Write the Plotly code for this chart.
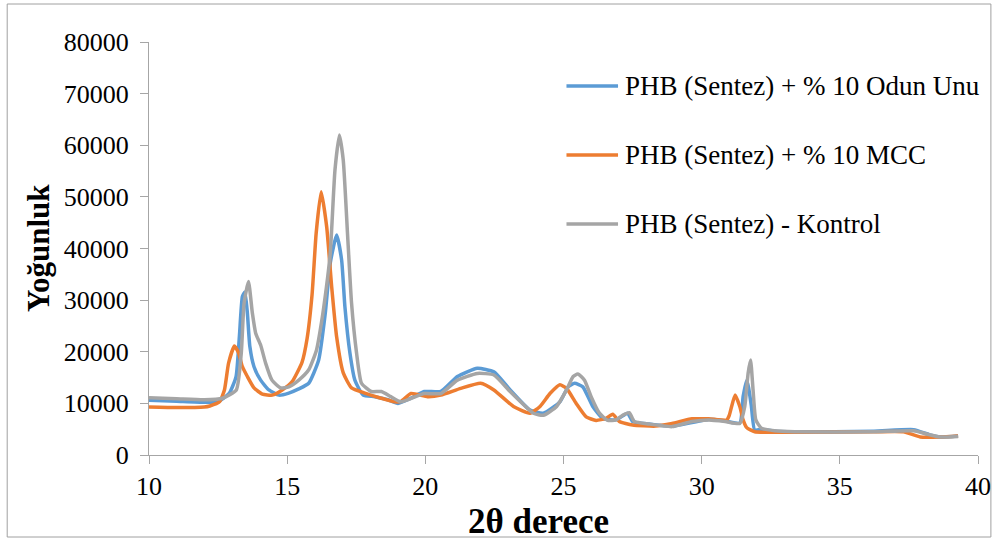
import plotly.graph_objects as go

# ---- data (2θ in degrees, intensity) ----
odun_x = [10.0, 11.0, 12.0, 12.5, 12.91, 13.15, 13.27, 13.38, 13.47, 13.56, 13.65, 13.80, 14.04, 14.34, 14.70,
          15.06, 15.42, 15.78, 16.14, 16.38, 16.56, 16.79, 16.97, 17.09, 17.27, 17.45, 17.75, 18.17, 18.65,
          19.01, 19.48, 19.96, 20.56, 21.16, 21.88, 22.48, 23.07, 23.79, 24.27, 24.87, 25.17, 25.40, 25.70,
          26.06, 26.42, 26.90, 27.32, 27.50, 28.09, 28.93, 29.65, 30.25, 30.85, 31.38, 31.50, 31.63, 31.70,
          31.80, 31.92, 32.16, 32.64, 33.36, 36.23, 37.67, 38.26, 38.62, 39.28]
odun_y = [10600, 10400, 10200, 10300, 12000, 15200, 22900, 30700, 31600, 27500, 21000, 17100, 14500, 12600, 11600,
          12000, 12800, 13900, 18400, 27500, 37200, 42600, 37800, 28700, 19800, 14500, 11600, 11300, 10700,
          10000, 11000, 12300, 12300, 15200, 16800, 16100, 12600, 8700, 8100, 10300, 13200, 13900, 13200,
          9400, 7100, 6800, 8100, 6500, 6000, 5600, 6300, 6900, 6600, 6200, 11300, 14500, 13000,
          9400, 4800, 5000, 4600, 4500, 4600, 4900, 3900, 3500, 3700]

mcc_x = [10.0, 11.0, 12.0, 12.2, 12.55, 12.73, 12.88, 13.09, 13.24, 13.38, 13.56, 13.80, 14.10, 14.46, 14.82,
         15.18, 15.54, 15.72, 15.90, 16.05, 16.23, 16.43, 16.61, 16.79, 17.03, 17.33, 17.81, 18.40, 18.89,
         19.12, 19.48, 20.08, 20.56, 21.28, 22.00, 22.48, 23.19, 23.79, 24.15, 24.51, 24.87, 25.11, 25.46,
         25.82, 26.18, 26.54, 26.78, 27.02, 27.50, 28.33, 28.93, 29.65, 30.25, 30.91, 31.00, 31.21, 31.38,
         31.50, 31.63, 31.92, 32.64, 33.36, 36.23, 37.30, 37.91, 38.62, 39.28]
mcc_y = [9300, 9200, 9300, 9500, 10300, 12600, 17800, 21100, 19800, 17100, 15200, 13000, 11800, 11600, 12600,
         14200, 18000, 22500, 31000, 43000, 51000, 44200, 32600, 22900, 15900, 13000, 12000, 11000, 10300,
         10400, 11900, 11300, 11600, 12900, 13900, 12600, 9400, 8100, 9400, 11900, 13600, 12900, 10000,
         7400, 6700, 7100, 7900, 6500, 5800, 5600, 6100, 7000, 7000, 6800, 7700, 11600, 9400,
         6800, 5300, 4500, 4400, 4400, 4500, 4500, 3500, 3500, 3700]

kontrol_x = [10.0, 11.0, 12.0, 12.66, 13.16, 13.34, 13.44, 13.60, 13.74, 13.86, 14.04, 14.22, 14.45, 14.76,
             15.06, 15.42, 15.78, 16.06, 16.24, 16.42, 16.56, 16.73, 16.89, 17.03, 17.19, 17.33, 17.51, 17.69,
             18.04, 18.41, 18.75, 19.12, 19.96, 20.56, 21.16, 21.88, 22.48, 23.07, 23.91, 24.27, 24.75, 25.11,
             25.35, 25.52, 25.76, 26.00, 26.30, 26.60, 26.90, 27.14, 27.38, 27.56, 28.09, 28.93, 29.65, 30.25,
             30.85, 31.38, 31.56, 31.68, 31.77, 31.86, 31.96, 32.16, 32.64, 33.36, 36.23, 37.67, 38.26, 38.62, 39.28]
kontrol_y = [11100, 10900, 10700, 11000, 12600, 19800, 29400, 33600, 27500, 23600, 21300, 17800, 14500, 13000,
             13200, 14500, 16500, 20300, 25600, 32500, 39100, 55200, 62000, 57100, 42300, 29400, 19800, 13900,
             12300, 12300, 11300, 10300, 11900, 11900, 14500, 15800, 15500, 12300, 8100, 7700, 9400, 12600,
             15200, 15700, 14500, 11300, 8100, 6700, 6800, 7700, 8200, 6500, 6000, 5500, 6500, 6800,
             6500, 6100, 9400, 15800, 18400, 12600, 6800, 5200, 4700, 4500, 4500, 4700, 3900, 3500, 3600]

series_names = ["PHB (Sentez) + % 10 Odun Unu", "PHB (Sentez) + % 10 MCC", "PHB (Sentez) - Kontrol"]
x_ticks = [10, 15, 20, 25, 30, 35, 40]
y_ticks = [0, 10000, 20000, 30000, 40000, 50000, 60000, 70000, 80000]

colors = ["#5B9BD5", "#ED7D31", "#A5A5A5"]
serif = "Liberation Serif"

fig = go.Figure()
for i, (xs, ys) in enumerate([(odun_x, odun_y), (mcc_x, mcc_y), (kontrol_x, kontrol_y)]):
    fig.add_trace(go.Scatter(
        x=xs, y=ys, mode="lines", name=series_names[i], showlegend=False,
        line=dict(color=colors[i], width=3.5, shape="spline", smoothing=0.5),
    ))

L, R, T, B = 149, 18, 42, 85
W, H = 1003, 540
pw, ph = W - L - R, H - T - B

def px_to_paper_x(px):
    return (px - L) / pw

def py_to_paper_y(py):
    return (H - B - py) / ph

# legend drawn as line samples + text
legend_rows = [86, 155, 224]
shapes = [
    dict(type="rect", xref="paper", yref="paper",
         x0=px_to_paper_x(6), x1=px_to_paper_x(998), y0=py_to_paper_y(537), y1=py_to_paper_y(4),
         line=dict(color="#A0A0A0", width=1), fillcolor="rgba(0,0,0,0)", layer="below"),
]
annotations = [
    dict(text="<b>2θ derece</b>", x=px_to_paper_x(542), y=py_to_paper_y(521), xref="paper", yref="paper",
         xanchor="center", yanchor="middle", showarrow=False, font=dict(family=serif, size=35, color="black")),
    dict(text="<b>Yoğunluk</b>", x=px_to_paper_x(37), y=py_to_paper_y(248), xref="paper", yref="paper",
         xanchor="center", yanchor="middle", showarrow=False, textangle=-90,
         font=dict(family=serif, size=31, color="black")),
]
for i, ry in enumerate(legend_rows):
    shapes.append(dict(type="line", xref="paper", yref="paper",
                       x0=px_to_paper_x(570), x1=px_to_paper_x(622),
                       y0=py_to_paper_y(ry), y1=py_to_paper_y(ry),
                       line=dict(color=colors[i], width=3.5)))
    annotations.append(dict(text=series_names[i], x=px_to_paper_x(627), y=py_to_paper_y(ry),
                            xref="paper", yref="paper", xanchor="left", yanchor="middle",
                            showarrow=False, font=dict(family=serif, size=27, color="black")))

fig.update_layout(
    width=W, height=H,
    margin=dict(l=L, r=R, t=T, b=B),
    paper_bgcolor="white", plot_bgcolor="white",
    font=dict(family=serif, color="black", size=26),
    showlegend=False,
    xaxis=dict(
        range=[10, 40], tickvals=x_ticks, ticktext=[str(v) for v in x_ticks],
        showgrid=False, zeroline=False, showline=True, linecolor="#A6A6A6", linewidth=1,
        ticks="outside", ticklen=8, tickcolor="#A6A6A6", tickfont=dict(family=serif, size=26, color="black"),
    ),
    yaxis=dict(
        range=[0, 80000], tickvals=y_ticks, ticktext=[str(v) for v in y_ticks],
        showgrid=False, zeroline=False, showline=True, linecolor="#A6A6A6", linewidth=1,
        ticks="outside", ticklen=8, tickcolor="#A6A6A6", ticklabelstandoff=6,
        tickfont=dict(family=serif, size=26, color="black"),
    ),
    annotations=annotations,
    shapes=shapes,
)

fig.write_html("out.html")
